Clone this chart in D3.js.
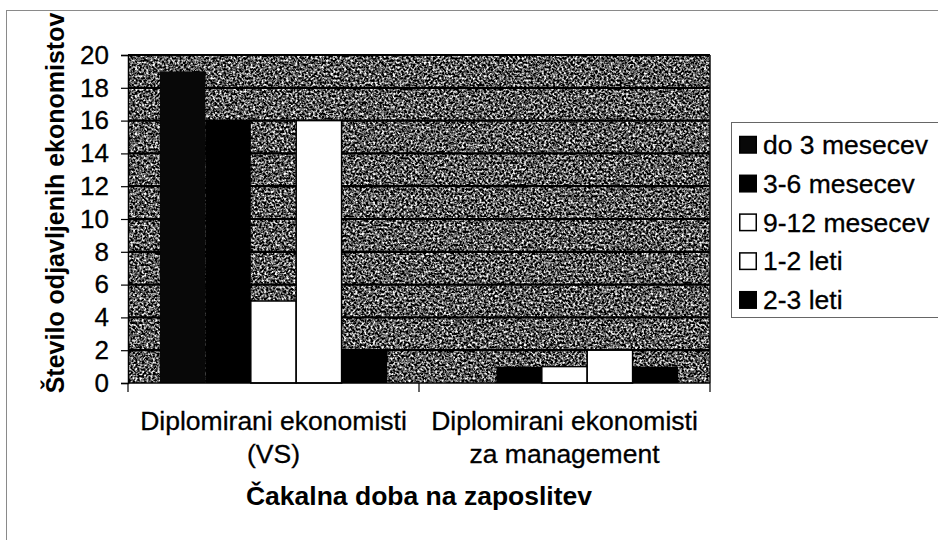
<!DOCTYPE html>
<html lang="sl">
<head>
    <meta charset="UTF-8">
    <title>Čakalna doba na zaposlitev</title>
    <script src="https://cdn.jsdelivr.net/npm/d3@7"></script>
    <style>
        body { margin: 0; background: #fff; }
        text { font-family: "Liberation Sans", Arial, sans-serif; fill: #000; }
    </style>
</head>
<body>
    <svg width="938" height="540" id="mainsvg"></svg>
    <script>
        // data
        const categories = [
            ['Diplomirani ekonomisti', '(VS)'],
            ['Diplomirani ekonomisti', 'za management']
        ]
        const seriesNames = ['do 3 mesecev', '3-6 mesecev', '9-12 mesecev', '1-2 leti', '2-3 leti']
        const valuesVS = [19, 16, 5, 16, 2]
        const valuesManagement = [0, 1, 1, 2, 1]
        const yTicks = [0, 2, 4, 6, 8, 10, 12, 14, 16, 18, 20]

        const allValues = [valuesVS, valuesManagement]
        const fills = {'do 3 mesecev': '#080808', '3-6 mesecev': '#000', '9-12 mesecev': '#fff', '1-2 leti': '#fff', '2-3 leti': '#000'}

        const svg = d3.select('#mainsvg')
        const plot = {left: 128, right: 710, top: 55, bottom: 383}

        // chart frame
        svg.append('rect')
            .attr('x', 6.5).attr('y', 10.5)
            .attr('width', 1000).attr('height', 1000)
            .attr('fill', 'none').attr('stroke', '#8a8a8a').attr('stroke-width', 1)

        // speckled grey plot background
        const defs = svg.append('defs')
        const noise = defs.append('filter').attr('id', 'noise')
            .attr('filterUnits', 'userSpaceOnUse')
            .attr('x', plot.left).attr('y', plot.top)
            .attr('width', plot.right - plot.left).attr('height', plot.bottom - plot.top)
            .attr('color-interpolation-filters', 'sRGB')
        noise.append('feTurbulence')
            .attr('type', 'fractalNoise').attr('baseFrequency', 0.45)
            .attr('numOctaves', 2).attr('seed', 7)
        noise.append('feColorMatrix').attr('type', 'matrix')
            .attr('values', '2.6 0 0 0 -0.95  2.6 0 0 0 -0.95  2.6 0 0 0 -0.95  0 0 0 0 1')

        const x0 = d3.scaleBand()
            .domain(d3.range(categories.length))
            .range([plot.left, plot.right])
            .paddingInner(0.22)
            .paddingOuter(0.11)

        const x1 = d3.scaleBand()
            .domain(seriesNames)
            .range([0, x0.bandwidth()])

        const yScale = d3.scaleLinear()
            .domain([0, 20])
            .range([plot.bottom, plot.top])

        svg.append('rect')
            .attr('x', plot.left).attr('y', plot.top)
            .attr('width', plot.right - plot.left).attr('height', plot.bottom - plot.top)
            .attr('fill', '#555')
            .attr('filter', 'url(#noise)')

        // gridlines
        svg.append('g').selectAll('line').data(yTicks.filter(d => d > 0)).join('line')
            .attr('x1', plot.left).attr('x2', plot.right)
            .attr('y1', d => yScale(d)).attr('y2', d => yScale(d))
            .attr('stroke', '#000').attr('stroke-width', 2.2)

        // right border of plot
        svg.append('line')
            .attr('x1', plot.right).attr('x2', plot.right)
            .attr('y1', plot.top).attr('y2', plot.bottom)
            .attr('stroke', '#111').attr('stroke-width', 1.5)

        // bars
        const groups = svg.append('g').selectAll('g').data(allValues).join('g')
            .attr('transform', (d, i) => `translate(${x0(i)},0)`)

        groups.selectAll('rect')
            .data(vals => vals.map((v, j) => ({name: seriesNames[j], value: v})).filter(d => d.value > 0))
            .join('rect')
            .attr('x', d => x1(d.name))
            .attr('y', d => yScale(d.value))
            .attr('width', x1.bandwidth())
            .attr('height', d => yScale(0) - yScale(d.value))
            .attr('fill', d => fills[d.name])
            .attr('stroke', d => fills[d.name] === '#fff' ? '#000' : 'none')
            .attr('stroke-width', 1.5)

        // y axis
        const yAxis = d3.axisLeft(yScale).tickValues(yTicks).tickSize(7).tickPadding(12)
        const yAxisGroup = svg.append('g')
            .attr('transform', `translate(${plot.left},0)`)
            .call(yAxis)
        yAxisGroup.select('.domain').attr('stroke', '#000').attr('stroke-width', 1.5)
        yAxisGroup.selectAll('.tick line').attr('stroke', '#000').attr('stroke-width', 1.2)
        yAxisGroup.selectAll('.tick text')
            .attr('font-size', '26px')
            .attr('font-family', '"Liberation Sans", Arial, sans-serif')
            .attr('fill', '#000')
            .attr('stroke', '#000').attr('stroke-width', 0.3)

        // x axis with ticks on the category boundaries
        svg.append('line')
            .attr('x1', plot.left).attr('x2', plot.right)
            .attr('y1', plot.bottom).attr('y2', plot.bottom)
            .attr('stroke', '#000').attr('stroke-width', 1.5)
        const step = x0.step()
        const boundaries = d3.range(categories.length + 1).map(i => plot.left + i * step)
        svg.append('g').selectAll('line').data(boundaries).join('line')
            .attr('x1', d => d).attr('x2', d => d)
            .attr('y1', plot.bottom).attr('y2', plot.bottom + 9)
            .attr('stroke', '#000').attr('stroke-width', 1.2)

        // category labels
        svg.append('g').selectAll('text').data(categories).join('text')
            .attr('text-anchor', 'middle')
            .attr('font-size', '26.5px')
            .attr('stroke', '#000').attr('stroke-width', 0.3)
            .attr('y', 430)
            .each(function (lines, i) {
                const cx = x0(i) + x0.bandwidth() / 2
                d3.select(this).selectAll('tspan').data(lines).join('tspan')
                    .attr('x', cx)
                    .attr('dy', (d, k) => k === 0 ? 0 : 33)
                    .text(d => d)
            })

        // axis titles
        svg.append('text')
            .attr('x', (plot.left + plot.right) / 2).attr('y', 505)
            .attr('text-anchor', 'middle')
            .attr('font-size', '26.5px').attr('font-weight', 'bold')
            .text('Čakalna doba na zaposlitev')

        svg.append('text')
            .attr('transform', 'translate(64,203) rotate(-90)')
            .attr('text-anchor', 'middle')
            .attr('font-size', '25px').attr('font-weight', 'bold')
            .text('Število odjavljenih ekonomistov')

        // legend
        const legend = svg.append('g')
        legend.append('rect')
            .attr('x', 731.5).attr('y', 122.5)
            .attr('width', 300).attr('height', 195)
            .attr('fill', '#fff').attr('stroke', '#666').attr('stroke-width', 1)

        const items = legend.selectAll('g.item').data(seriesNames).join('g')
            .attr('class', 'item')
            .attr('transform', (d, i) => `translate(739,${145 + i * 38.8})`)
        items.append('rect')
            .attr('x', 0.75).attr('y', -8.5)
            .attr('width', 16.5).attr('height', 16.5)
            .attr('fill', d => fills[d])
            .attr('stroke', '#000').attr('stroke-width', 1.5)
        items.append('text')
            .attr('x', 24).attr('y', 9)
            .attr('font-size', '26.5px')
            .attr('stroke', '#000').attr('stroke-width', 0.3)
            .text(d => d)
    </script>
</body>
</html>
